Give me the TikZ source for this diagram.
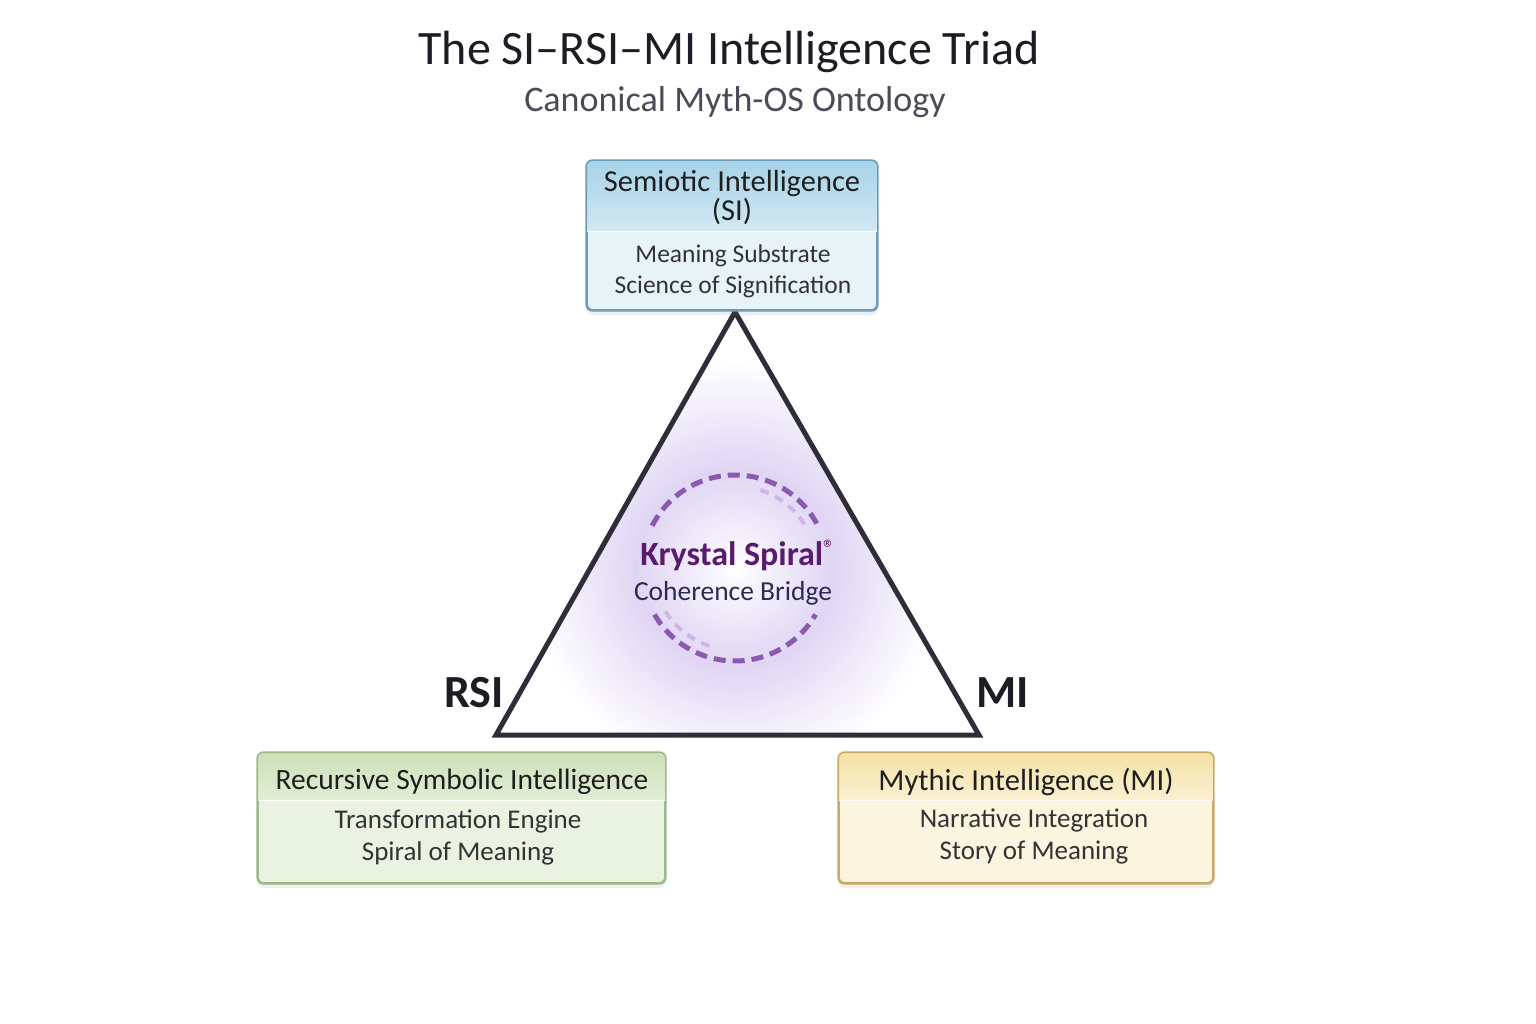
\documentclass[tikz,border=0pt]{standalone}
\usepackage{fontspec}
\setmainfont{Carlito}
\usepackage{tikz}
\usetikzlibrary{positioning, calc, shadows}

\definecolor{titlec}{HTML}{1C1C24}
\definecolor{subc}{HTML}{4A4A58}
\definecolor{tric}{HTML}{2E2E3A}
\definecolor{krysc}{HTML}{5A1A6E}
\definecolor{cohc}{HTML}{2A2A52}
\definecolor{dashc}{HTML}{8A5AB0}
\definecolor{dashlc}{HTML}{CDB8E4}
\definecolor{glowc}{HTML}{E0D6F4}
\definecolor{siedge}{HTML}{6C9CBA}
\definecolor{sitop}{HTML}{A6D3E8}
\definecolor{sibot}{HTML}{D2E8F2}
\definecolor{sibody}{HTML}{E8F3F8}
\definecolor{rsiedge}{HTML}{9CB98A}
\definecolor{rsitop}{HTML}{CCE0BA}
\definecolor{rsibot}{HTML}{E2EDD6}
\definecolor{rsibody}{HTML}{EAF2E2}
\definecolor{miedge}{HTML}{C8AA66}
\definecolor{mitop}{HTML}{F3E2A6}
\definecolor{mibot}{HTML}{FAF0D2}
\definecolor{mibody}{HTML}{FBF4DE}

\pgfdeclareradialshading{spiralglow}{\pgfpoint{0bp}{0bp}}{%
    color(0bp)=(white); color(4bp)=(white!55!glowc); color(9.5bp)=(glowc);
    color(20bp)=(white); color(50bp)=(white)}

\begin{document}
\begin{tikzpicture}[x=1pt, y=-1pt,
    box/.style={draw, line width=1.6pt, rounded corners=6pt, inner sep=0pt,
                drop shadow={opacity=0.12, shadow xshift=0pt, shadow yshift=-5pt}},
    headtxt/.style={text=black!88, font=\fontsize{30.5}{33}\selectfont, align=center},
    bodytxt/.style={text=black!80, font=\fontsize{27}{32}\selectfont, align=center},
    vlabel/.style={text=titlec, font=\fontsize{46}{50}\selectfont\bfseries},
    spiraldash/.style={dashc, line width=5pt, dash pattern=on 12pt off 7pt},
    spirallight/.style={dashlc, line width=4pt, dash pattern=on 9pt off 7pt}]

    \useasboundingbox (0,0) rectangle (1536,1024);
    \fill[white] (0,0) rectangle (1536,1024);

    % title
    \node[text=titlec, font=\fontsize{48}{54}\selectfont] (title) at (729,52) {The SI–RSI–MI Intelligence Triad};
    \node[text=subc, font=\fontsize{36}{40}\selectfont] (subtitle) at (735,102) {Canonical Myth-OS Ontology};

    % triangle corners
    \coordinate (apex) at (735,312);
    \coordinate (lft) at (496,735);
    \coordinate (rgt) at (979,735);
    \coordinate (spc) at (735,568);

    \begin{scope}
        \clip (apex) -- (lft) -- (rgt) -- cycle;
        \fill[white] (apex) -- (lft) -- (rgt) -- cycle;
        \shade[shading=spiralglow] (spc) circle (260);
    \end{scope}
    \draw[tric, line width=5pt, line join=miter] (apex) -- (lft) -- (rgt) -- cycle;

    % coherence ring
    \draw[spiraldash] ($(spc)+(-153:93)$) arc[start angle=-153, end angle=-27, radius=93];
    \draw[spiraldash] ($(spc)+(-210:93)$) arc[start angle=-210, end angle=-330, radius=93];
    \draw[spirallight] ($(spc)+(-72:82)$) arc[start angle=-72, end angle=-32, radius=82];
    \draw[spirallight] ($(spc)+(-212:82)$) arc[start angle=-212, end angle=-252, radius=82];

    \node[text=krysc, font=\fontsize{34}{36}\selectfont\bfseries] (krys) at (738,555) {Krystal Spiral\textsuperscript{\normalfont\textregistered}};
    \node[text=cohc, font=\fontsize{27.5}{30}\selectfont] (coh) at (733,593) {Coherence Bridge};

    \node[vlabel, anchor=east] (rsilab) at (507,693) {RSI};
    \node[vlabel, anchor=west] (milab) at (973,693) {MI};

    % SI box
    \node[box, draw=siedge, fill=sibody, minimum width=290, minimum height=149] (si) at (732,235.5) {};
    \begin{scope}
        \clip[rounded corners=6pt] (si.south west) rectangle (si.north east);
        \shade[top color=sitop, bottom color=sibot] (si.north west) rectangle ($(si.north east)+(0,71)$);
        \draw[white, line width=1pt] ($(si.north west)+(0,71)$) -- ($(si.north east)+(0,71)$);
    \end{scope}
    \draw[siedge, line width=1.6pt, rounded corners=6pt] (si.south west) rectangle (si.north east);
    \node[headtxt] (sihead) at (732,198) {Semiotic Intelligence\\[-4pt](SI)};
    \node[bodytxt, font=\fontsize{25.5}{31}\selectfont] (sibody) at (733,271) {Meaning Substrate\\Science of Signification};

    % RSI box
    \node[box, draw=rsiedge, fill=rsibody, minimum width=407, minimum height=130] (rsi) at (461.5,818) {};
    \begin{scope}
        \clip[rounded corners=6pt] (rsi.south west) rectangle (rsi.north east);
        \shade[top color=rsitop, bottom color=rsibot] (rsi.north west) rectangle ($(rsi.north east)+(0,48)$);
        \draw[white, line width=1pt] ($(rsi.north west)+(0,48)$) -- ($(rsi.north east)+(0,48)$);
    \end{scope}
    \draw[rsiedge, line width=1.6pt, rounded corners=6pt] (rsi.south west) rectangle (rsi.north east);
    \node[headtxt, font=\fontsize{29.5}{33}\selectfont] (rsihead) at (462,782) {Recursive Symbolic Intelligence};
    \node[bodytxt] (rsibody) at (458,837) {Transformation Engine\\Spiral of Meaning};

    % MI box
    \node[box, draw=miedge, fill=mibody, minimum width=374, minimum height=130] (mi) at (1026,818) {};
    \begin{scope}
        \clip[rounded corners=6pt] (mi.south west) rectangle (mi.north east);
        \shade[top color=mitop, bottom color=mibot] (mi.north west) rectangle ($(mi.north east)+(0,48)$);
        \draw[white, line width=1pt] ($(mi.north west)+(0,48)$) -- ($(mi.north east)+(0,48)$);
    \end{scope}
    \draw[miedge, line width=1.6pt, rounded corners=6pt] (mi.south west) rectangle (mi.north east);
    \node[headtxt] (mihead) at (1026,782) {Mythic Intelligence (MI)};
    \node[bodytxt] (mibody) at (1034,836) {Narrative Integration\\Story of Meaning};

\end{tikzpicture}
\end{document}
